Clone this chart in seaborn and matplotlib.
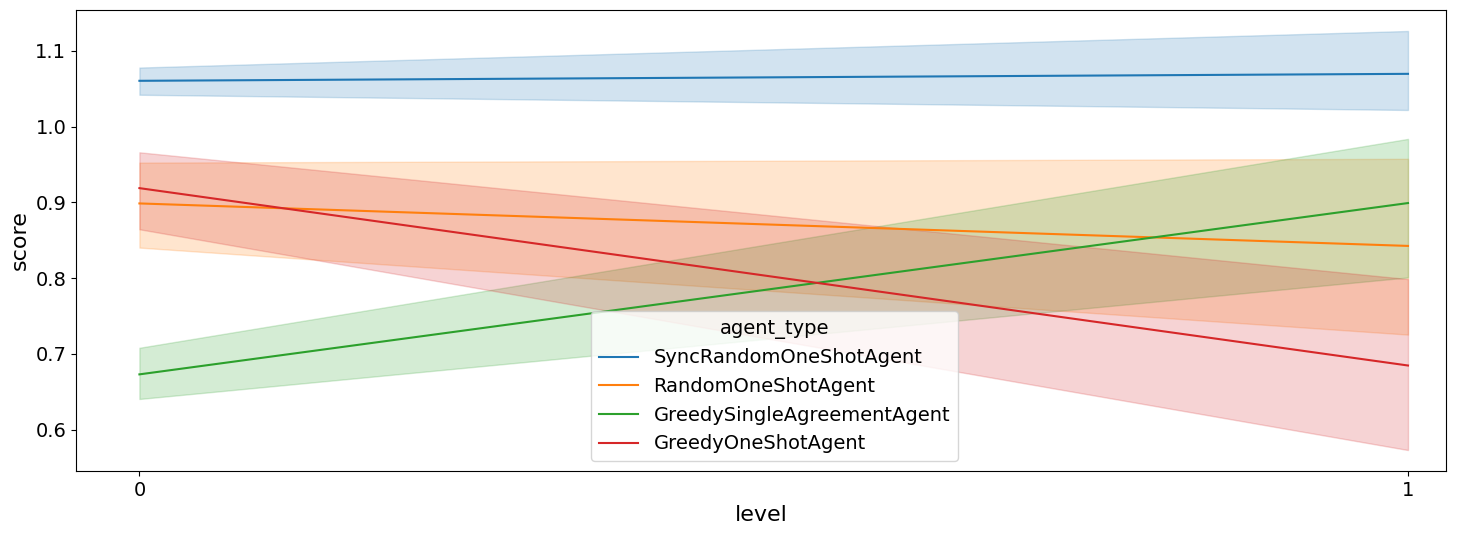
import pandas as pd
import matplotlib
matplotlib.use('Agg')
import matplotlib.pyplot as plt
import seaborn as sns

agents = ['SyncRandomOneShotAgent', 'RandomOneShotAgent',
          'GreedySingleAgreementAgent', 'GreedyOneShotAgent']
levels = [0, 1]

# per agent: values at level 0 and level 1 (center line, band low, band high)
center = {
    'SyncRandomOneShotAgent': [1.0605, 1.0697],
    'RandomOneShotAgent': [0.8986, 0.8425],
    'GreedySingleAgreementAgent': [0.6729, 0.8991],
    'GreedyOneShotAgent': [0.9188, 0.6846],
}
low = {
    'SyncRandomOneShotAgent': [1.0421, 1.0220],
    'RandomOneShotAgent': [0.8403, 0.7254],
    'GreedySingleAgreementAgent': [0.6404, 0.8009],
    'GreedyOneShotAgent': [0.8645, 0.5730],
}
high = {
    'SyncRandomOneShotAgent': [1.0780, 1.1263],
    'RandomOneShotAgent': [0.9525, 0.9575],
    'GreedySingleAgreementAgent': [0.7080, 0.9838],
    'GreedyOneShotAgent': [0.9661, 0.7987],
}

rows = []
for a in agents:
    for i, lv in enumerate(levels):
        for src in (low, center, high):
            rows.append({'agent_type': a, 'level': lv, 'score': src[a][i]})
df = pd.DataFrame(rows)

fig, ax = plt.subplots(figsize=(14.81, 5.36), dpi=100)
sns.lineplot(data=df, x='level', y='score', hue='agent_type',
             hue_order=agents, estimator='median', errorbar=('pi', 100),
             ax=ax)

ax.set_xticks(levels)
ax.set_xlim(-0.05, 1.03)
ax.tick_params(labelsize=14)
ax.set_xlabel('level', fontsize=16)
ax.set_ylabel('score', fontsize=16)
leg = ax.legend(title='agent_type', fontsize=14, title_fontsize=14,
                loc='lower center', bbox_to_anchor=(0.51, 0.0))

plt.subplots_adjust(left=0.0513, right=0.9764, top=0.9813, bottom=0.1213)
plt.savefig('out.png')
